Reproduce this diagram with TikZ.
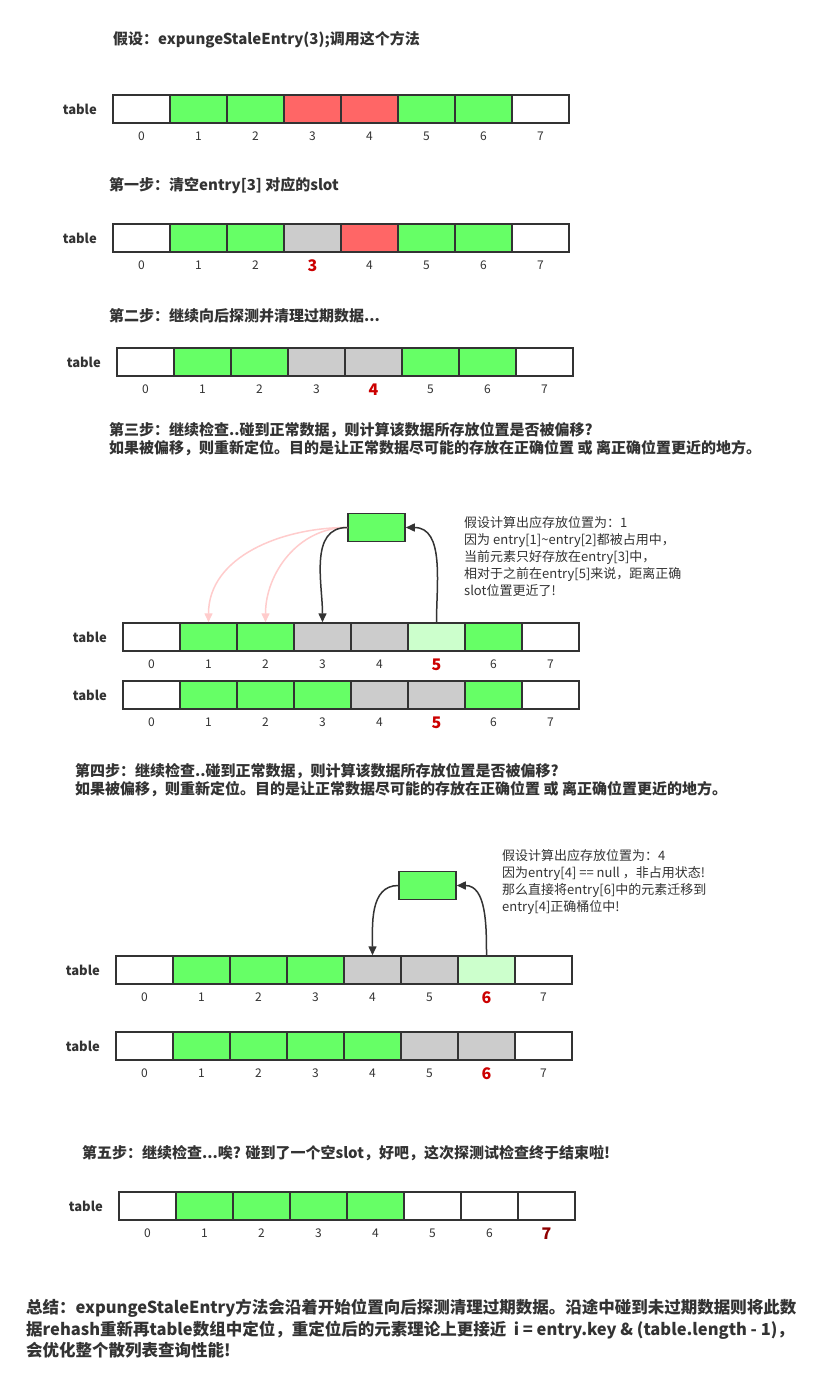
\documentclass[tikz,border=0pt]{standalone}
\usepackage{fontspec}
\setmainfont{Noto Sans CJK SC}
\usetikzlibrary{arrows.meta}
\definecolor{W}{HTML}{FFFFFF}
\definecolor{G}{HTML}{66FF66}
\definecolor{R}{HTML}{FF6666}
\definecolor{Y}{HTML}{CCCCCC}
\definecolor{L}{HTML}{CCFFCC}
\definecolor{edge}{HTML}{333333}
\definecolor{hi}{HTML}{CC0000}
\definecolor{pinkarrow}{HTML}{FFCCCC}
\tikzset{
  cell/.style={draw=edge, line width=1.5pt, minimum width=57pt, minimum height=28pt, inner sep=0pt},
  lbl/.style={anchor=east, font=\fontsize{13}{15}\selectfont\bfseries, text=edge, inner sep=0pt},
  idx/.style={font=\fontsize{12}{14}\selectfont, text=edge, inner sep=0pt},
  hidx/.style={font=\fontsize{16}{18}\selectfont\bfseries, text=hi, inner sep=0pt},
  steptext/.style={anchor=west, font=\fontsize{15}{18}\selectfont\bfseries, text=edge, inner sep=0pt},
  steptwo/.style={anchor=north west, align=left, font=\fontsize{15}{18}\selectfont\bfseries, text=edge, inner sep=0pt},
  note/.style={anchor=north west, align=left, font=\fontsize{13}{17}\selectfont, text=edge, inner sep=0pt},
  darr/.style={draw=edge, line width=1.5pt, -{Triangle[length=9pt,width=8pt]}},
  parr/.style={draw=pinkarrow, line width=1.5pt, -{Triangle[length=9pt,width=8pt]}},
}
% #1 prefix, #2 x left, #3 y top, #4 colours, #5 highlighted index, #6 highlight colour
\newcommand{\trow}[6]{%
  \node[lbl] (#1lab) at (#2-16, #3+14) {table};
  \foreach \c [count=\i from 0] in {#4} {
    \node[cell, fill=\c] (#1c\i) at (#2+\i*57+28.5, #3+14) {};
    \ifnum\i=#5
      \node[hidx, text=#6] (#1n\i) at (#2+\i*57+28.5, #3+42) {\i};
    \else
      \node[idx] (#1n\i) at (#2+\i*57+28.5, #3+41) {\i};
    \fi
  }%
}
\begin{document}
\begin{tikzpicture}[x=1pt,y=-1pt]
\path[use as bounding box, fill=white] (0,0) rectangle (821,1391);

\node[steptext] (t0) at (113,40) {假设：expungeStaleEntry(3);调用这个方法};
\trow{a}{113}{95}{W,G,G,R,R,G,G,W}{-1}{hi}

\node[steptext] (t1) at (109,186) {第一步：清空entry[3] 对应的slot};
\trow{b}{113}{224}{W,G,G,Y,R,G,G,W}{3}{hi}

\node[steptext] (t2) at (109,316) {第二步：继续向后探测并清理过期数据...};
\trow{c}{117}{348}{W,G,G,Y,Y,G,G,W}{4}{hi}

\node[steptwo] (t3) at (109,422) {第三步：继续检查..碰到正常数据，则计算该数据所存放位置是否被偏移?\\如果被偏移，则重新定位。目的是让正常数据尽可能的存放在正确位置 或 离正确位置更近的地方。};
\trow{d}{123}{623}{W,G,G,Y,Y,L,G,W}{5}{hi}
\trow{e}{123}{681}{W,G,G,G,Y,Y,G,W}{5}{hi}

\node[cell, fill=G] (m1) at (376.5,527.5) {};
\node[note] (n1) at (464,516) {假设计算出应存放位置为：1\\因为 entry[1]\textasciitilde entry[2]都被占用中，\\当前元素只好存放在entry[3]中，\\相对于之前在entry[5]来说，距离正确\\slot位置更近了!};
\draw[parr] (m1.west) to[out=180,in=90] (dc1.north);
\draw[parr] (m1.west) to[out=180,in=90] (dc2.north);
\draw[darr] (m1.west) to[out=180,in=90] (dc3.north);
\draw[darr] (dc5.north) to[out=90,in=0] (m1.east);

\node[steptwo] (t4) at (75,763) {第四步：继续检查..碰到正常数据，则计算该数据所存放位置是否被偏移?\\如果被偏移，则重新定位。目的是让正常数据尽可能的存放在正确位置 或 离正确位置更近的地方。};
\trow{f}{116}{956}{W,G,G,G,Y,Y,L,W}{6}{hi}
\trow{g}{116}{1032}{W,G,G,G,G,Y,Y,W}{6}{hi}

\node[cell, fill=G] (m2) at (427.5,885.5) {};
\node[note] (n2) at (502,849) {假设计算出应存放位置为：4\\因为entry[4] == null ，非占用状态!\\那么直接将entry[6]中的元素迁移到\\entry[4]正确桶位中!};
\draw[darr] (m2.west) to[out=180,in=90] (fc4.north);
\draw[darr] (fc6.north) to[out=90,in=0] (m2.east);

\node[steptext] (t5) at (82,1153) {第五步：继续检查...唉? 碰到了一个空slot，好吧，这次探测试检查终于结束啦!};
\trow{h}{119}{1192}{W,G,G,G,G,W,W,W}{7}{hi!70!black}

\node[anchor=north west, align=left, font=\fontsize{16.5}{21.5}\selectfont\bfseries, text=edge, inner sep=0pt] (sum) at (26,1299) {总结：expungeStaleEntry方法会沿着开始位置向后探测清理过期数据。沿途中碰到未过期数据则将此数\\据rehash重新再table数组中定位，重定位后的元素理论上更接近\ \ i = entry.key \& (table.length - 1)，\\会优化整个散列表查询性能!};
\end{tikzpicture}
\end{document}
